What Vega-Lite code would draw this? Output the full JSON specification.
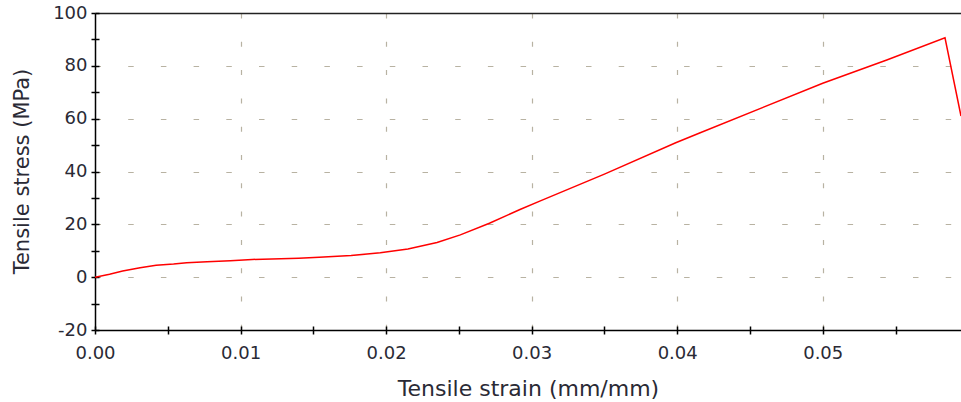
{
  "$schema": "https://vega.github.io/schema/vega-lite/v6.json",
  "width": 866,
  "height": 317,
  "autosize": {"type": "none"},
  "padding": {"left": 95, "top": 13, "right": 0, "bottom": 72},
  "background": "white",
  "config": {
    "view": {"stroke": null},
    "axis": {"labelFont": "DejaVu Sans", "titleFont": "DejaVu Sans", "labelColor": "#2a2a35", "titleColor": "#2a2a35", "titleFontWeight": "normal"}
  },
  "data": {
    "values": [
      {"strain": 0.0, "stress": 0.0},
      {"strain": 0.001, "stress": 1.1},
      {"strain": 0.0019, "stress": 2.3},
      {"strain": 0.0031, "stress": 3.6},
      {"strain": 0.0042, "stress": 4.5},
      {"strain": 0.0054, "stress": 5.0},
      {"strain": 0.0063, "stress": 5.5},
      {"strain": 0.0077, "stress": 5.8},
      {"strain": 0.0093, "stress": 6.2},
      {"strain": 0.0108, "stress": 6.7},
      {"strain": 0.014, "stress": 7.2},
      {"strain": 0.0154, "stress": 7.5},
      {"strain": 0.0176, "stress": 8.2},
      {"strain": 0.0196, "stress": 9.2},
      {"strain": 0.0215, "stress": 10.7},
      {"strain": 0.0235, "stress": 13.1},
      {"strain": 0.0251, "stress": 16.0},
      {"strain": 0.0271, "stress": 20.4},
      {"strain": 0.0292, "stress": 25.6},
      {"strain": 0.0306, "stress": 28.9},
      {"strain": 0.035, "stress": 39.0},
      {"strain": 0.0399, "stress": 50.9},
      {"strain": 0.0415, "stress": 54.5},
      {"strain": 0.05, "stress": 73.4},
      {"strain": 0.0544, "stress": 82.2},
      {"strain": 0.0584, "stress": 90.6},
      {"strain": 0.0595, "stress": 61.0}
    ]
  },
  "layer": [
    {
      "mark": {"type": "line", "opacity": 0},
      "encoding": {
        "x": {"field": "strain", "type": "quantitative", "scale": {"domain": [0, 0.0595], "nice": false, "zero": false},
          "axis": {"orient": "bottom", "values": [0.01, 0.02, 0.03, 0.04, 0.05], "grid": true, "gridColor": "#b8b2a2", "gridDash": [5, 23.3], "gridWidth": 1.2, "ticks": false, "labels": false, "domain": false, "title": null}},
        "y": {"field": "stress", "type": "quantitative", "scale": {"domain": [-20, 100], "nice": false, "zero": false},
          "axis": {"orient": "left", "values": [0, 20, 40, 60, 80], "grid": true, "gridColor": "#b8b2a2", "gridDash": [5.5, 27.2], "gridWidth": 1.2, "ticks": false, "labels": false, "domain": false, "title": null}}
      }
    },
    {
      "mark": {"type": "line", "opacity": 0},
      "encoding": {
        "x": {"field": "strain", "type": "quantitative",
          "axis": {"orient": "bottom", "values": [0, 0.005, 0.01, 0.015, 0.02, 0.025, 0.03, 0.035, 0.04, 0.045, 0.05, 0.055], "grid": false, "ticks": true, "tickSize": -4, "tickColor": "#000", "tickWidth": 1.5, "labels": false, "domain": false, "title": null}},
        "y": {"field": "stress", "type": "quantitative",
          "axis": {"orient": "left", "values": [-20, -10, 0, 10, 20, 30, 40, 50, 60, 70, 80, 90, 100], "grid": false, "ticks": true, "tickSize": -4, "tickColor": "#000", "tickWidth": 1.5, "labels": false, "domain": false, "title": null}}
      }
    },
    {
      "mark": {"type": "line", "opacity": 0},
      "encoding": {
        "x": {"field": "strain", "type": "quantitative",
          "axis": {"orient": "top", "grid": false, "ticks": false, "labels": false, "domain": true, "domainColor": "#222", "domainWidth": 1.5, "title": null}},
        "y": {"field": "stress", "type": "quantitative", "axis": null}
      }
    },
    {
      "mark": {"type": "line", "color": "#ff0000", "strokeWidth": 1.5, "clip": true},
      "encoding": {
        "x": {"field": "strain", "type": "quantitative",
          "axis": {"orient": "bottom", "values": [0, 0.005, 0.01, 0.015, 0.02, 0.025, 0.03, 0.035, 0.04, 0.045, 0.05, 0.055], "grid": false, "tickSize": 4, "tickColor": "#000", "tickWidth": 1.5, "domainColor": "#000", "domainWidth": 1.5, "labelFontSize": 18, "labelPadding": 10, "labelExpr": "abs(datum.value*100 - round(datum.value*100)) < 0.000001 ? format(datum.value, '.2f') : ''", "labelFlush": false, "labelOverlap": false,
            "title": "Tensile strain (mm/mm)", "titleFontSize": 22, "titleX": 433, "titleY": 65, "titleBaseline": "alphabetic", "titleAlign": "center"}},
        "y": {"field": "stress", "type": "quantitative",
          "axis": {"orient": "left", "values": [-20, -10, 0, 10, 20, 30, 40, 50, 60, 70, 80, 90, 100], "grid": false, "tickSize": 4, "tickColor": "#000", "tickWidth": 1.5, "domainColor": "#000", "domainWidth": 1.5, "labelFontSize": 18, "labelPadding": 4, "labelExpr": "datum.value % 20 === 0 ? '' + datum.value : ''", "labelFlush": false, "labelOverlap": false,
            "title": "Tensile stress (MPa)", "titleFontSize": 21, "titleX": -73, "titleY": 158, "titleBaseline": "middle", "titleAlign": "center", "titleAngle": -90}}
      }
    }
  ],
  "resolve": {"axis": {"x": "independent", "y": "independent"}}
}
